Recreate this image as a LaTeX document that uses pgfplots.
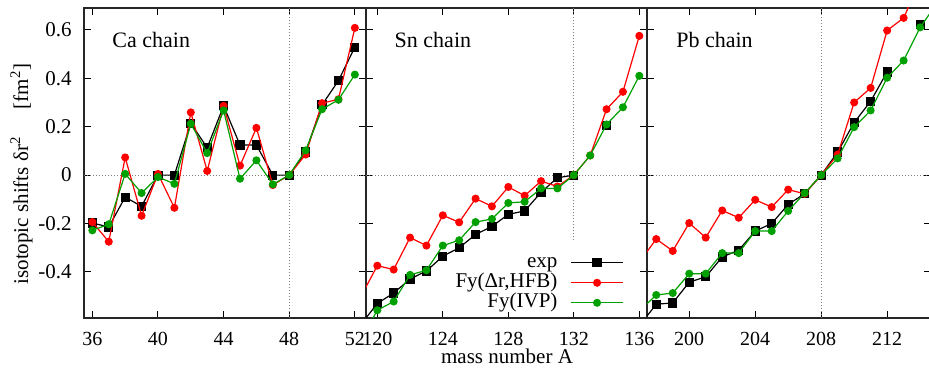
\documentclass[border=0pt]{standalone}
\usepackage{fontspec}
\IfFontExistsTF{LiberationSerif-Regular.ttf}
  {\setmainfont{LiberationSerif-Regular.ttf}[BoldFont=LiberationSerif-Bold.ttf,ItalicFont=LiberationSerif-Italic.ttf]}
  {\setmainfont{Liberation Serif}}
\usepackage{pgfplots}
\pgfplotsset{compat=1.18}
\definecolor{gpgreen}{RGB}{0,160,0}
\definecolor{gpred}{RGB}{255,0,0}

\tikzset{
  refline/.style={densely dotted, gray, line width=0.5pt},
  chainlbl/.style={anchor=base west, inner sep=0pt, font=\rmfamily\fontsize{11}{13}\selectfont},
}
\pgfplotsset{
  panel/.style={
    scale only axis, height=155pt,
    ymin=-0.59, ymax=0.69,
    ytick={-0.4,-0.2,0,0.2,0.4,0.6},
    axis line style={line width=0.9pt, black!85},
    tick style={line width=0.5pt, black},
    major tick length=3.5pt, tick align=inside,
    clip marker paths=true,
    unbounded coords=jump,
    font=\rmfamily\fontsize{10.5}{12}\selectfont,
    /pgf/number format/assume math mode=true,
    every x tick label/.append style={anchor=base, inner sep=0pt, yshift=-13.65pt, font=\rmfamily\fontsize{10}{11}\selectfont},
    every y tick label/.append style={anchor=east, inner sep=0pt, xshift=-6pt},
  },
  expst/.style={black, line width=0.6pt, mark=square*, mark size=2pt, mark options={solid}},
  hfbst/.style={gpred, line width=0.6pt, mark=*, mark size=1.7pt, mark options={solid}},
  ivpst/.style={gpgreen, line width=0.6pt, mark=*, mark size=1.7pt, mark options={solid}},
}

\begin{document}
\begin{tikzpicture}
% ---------------- Ca chain
\begin{axis}[panel, at={(42pt,25pt)}, anchor=south west, width=141pt,
  xmin=35.49, xmax=52.68, xtick={36,40,44,48,52},
  yticklabels={-0.4,-0.2,0,0.2,0.4,0.6}]
\draw[refline] (axis cs:35.49,0) -- (axis cs:52.68,0);
\draw[refline] (axis cs:48,-0.59) -- (axis cs:48,0.69);
\addplot[expst] coordinates {(36,-0.198) (37,-0.214) (38,-0.091) (39,-0.129) (40,0) (41,0) (42,0.214) (43,0.113) (44,0.286) (45,0.124) (46,0.124) (47,0) (48,0) (49,0.095) (50,0.290) (51,0.390) (52,0.528)};
\addplot[hfbst] coordinates {(36,-0.194) (37,-0.275) (38,0.073) (39,-0.168) (40,0.005) (41,-0.135) (42,0.259) (43,0.017) (44,0.286) (45,0.039) (46,0.195) (47,-0.041) (48,0) (49,0.085) (50,0.297) (51,0.313) (52,0.608)};
\addplot[ivpst] coordinates {(36,-0.228) (37,-0.203) (38,0.005) (39,-0.074) (40,-0.008) (41,-0.036) (42,0.212) (43,0.091) (44,0.267) (45,-0.015) (46,0.061) (47,-0.038) (48,0) (49,0.102) (50,0.272) (51,0.311) (52,0.415)};
\node[chainlbl] at (axis cs:37.2,0.527) {Ca chain};
\end{axis}
% ---------------- Sn chain
\begin{axis}[panel, at={(183pt,25pt)}, anchor=south west, width=140.5pt,
  xmin=119.31, xmax=136.47, xtick={120,124,128,132,136},
  yticklabels={},
  legend plot pos=right,
  legend cell align=right,
  legend image code/.code={\draw[mark repeat=2,mark phase=2,#1] plot coordinates {(0pt,0pt) (13pt,0pt) (26pt,0pt)};},
  legend style={at={(axis cs:135.07,-0.566)}, anchor=south east, draw=none, fill=white,
    inner sep=0pt, row sep=1pt, column sep=6.5pt,
    nodes={inner sep=0pt, text height=7pt, text depth=2pt},
    font=\rmfamily\fontsize{10.5}{12}\selectfont}]
\draw[refline] (axis cs:119.31,0) -- (axis cs:136.47,0);
\draw[refline] (axis cs:132,-0.27) -- (axis cs:132,0.69);
\addplot[expst] coordinates {(119,-0.617) (120,-0.530) (121,-0.487) (122,-0.429) (123,-0.396) (124,-0.335) (125,-0.300) (126,-0.245) (127,-0.212) (128,-0.162) (129,-0.148) (130,-0.071) (131,-0.011) (132,0) (133,nan) (134,0.204)};
\addlegendentry{exp}
\addplot[hfbst] coordinates {(119,-0.501) (120,-0.374) (121,-0.390) (122,-0.258) (123,-0.291) (124,-0.166) (125,-0.195) (126,-0.097) (127,-0.129) (128,-0.049) (129,-0.085) (130,-0.025) (131,-0.047) (132,0) (133,0.081) (134,0.272) (135,0.344) (136,0.575)};
\addlegendentry{Fy(Δr,HFB)}
\addplot[ivpst] coordinates {(119,-0.68) (120,-0.558) (121,-0.522) (122,-0.412) (123,-0.393) (124,-0.291) (125,-0.269) (126,-0.194) (127,-0.181) (128,-0.115) (129,-0.110) (130,-0.055) (131,-0.055) (132,0) (133,0.081) (134,0.209) (135,0.280) (136,0.410)};
\addlegendentry{Fy(IVP)}
\node[chainlbl] at (axis cs:121.04,0.527) {Sn chain};
\end{axis}
% ---------------- Pb chain
\begin{axis}[panel, at={(323.5pt,25pt)}, anchor=south west, width=142pt,
  xmin=197.44, xmax=214.66, xtick={200,204,208,212},
  yticklabels={}]
\draw[refline] (axis cs:197.44,0) -- (axis cs:214.66,0);
\draw[refline] (axis cs:208,-0.59) -- (axis cs:208,0.69);
\addplot[expst] coordinates {(197,-0.62) (198,-0.533) (199,-0.528) (200,-0.442) (201,-0.420) (202,-0.338) (203,-0.310) (204,-0.231) (205,-0.200) (206,-0.121) (207,-0.077) (208,0) (209,0.095) (210,0.217) (211,0.305) (212,0.426) (213,nan) (214,0.622)};
\addplot[hfbst] coordinates {(197,-0.357) (198,-0.264) (199,-0.313) (200,-0.198) (201,-0.258) (202,-0.146) (203,-0.176) (204,-0.102) (205,-0.132) (206,-0.060) (207,-0.077) (208,0) (209,0.085) (210,0.300) (211,0.360) (212,0.597) (213,0.649) (214,0.80)};
\addplot[ivpst] coordinates {(197,-0.56) (198,-0.495) (199,-0.487) (200,-0.407) (201,-0.407) (202,-0.322) (203,-0.322) (204,-0.231) (205,-0.231) (206,-0.148) (207,-0.074) (208,0) (209,0.069) (210,0.198) (211,0.267) (212,0.402) (213,0.473) (214,0.610) (215,0.707)};
\node[chainlbl] at (axis cs:199.19,0.527) {Pb chain};
\end{axis}
% ---------------- axis titles
\node[anchor=base, inner sep=0pt, font=\rmfamily\fontsize{10.5}{12}\selectfont] at (253.5pt,2pt) {mass number A};
\node[anchor=base, rotate=90, inner sep=0pt, font=\rmfamily\fontsize{10.5}{12}\selectfont] at (14pt,97pt) {isotopic shifts δr\textsuperscript{2}\hspace{1.3em}[fm\textsuperscript{2}]};
\pgfresetboundingbox
\path (0pt,0pt) rectangle (464.5pt,184pt);
\end{tikzpicture}
\end{document}
